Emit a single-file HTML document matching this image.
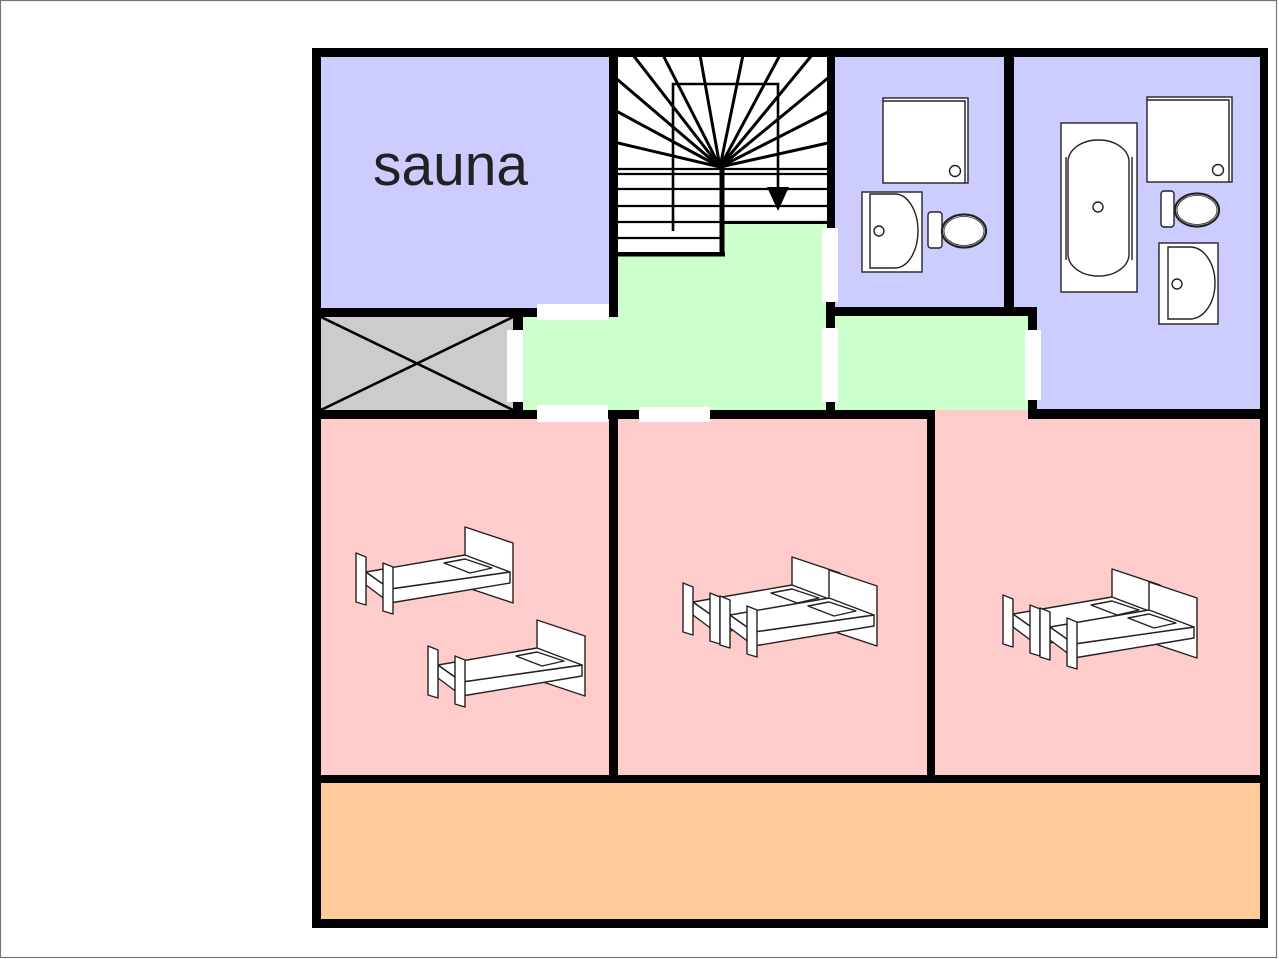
<!DOCTYPE html>
<html>
<head>
<meta charset="utf-8">
<style>
  html,body{margin:0;padding:0;background:#fff;}
  body{width:1279px;height:959px;overflow:hidden;}
  svg{display:block;}
</style>
</head>
<body>
<svg width="1279" height="959" viewBox="0 0 1279 959" xmlns="http://www.w3.org/2000/svg">
  <defs>
    <g id="bed" fill="#fff" stroke="#222" stroke-width="1.4" stroke-linejoin="round">
      <polygon points="125,17 173,33 173,93 125,77"/>
      <polygon points="26,62 50,79 50,93 26,75"/>
      <polygon points="50,79 170,62 170,73 50,93"/>
      <polygon points="26,62 125,45 170,62 50,79"/>
      <polygon points="104,53 125,49 152,58 130,63"/>
      <polygon points="16,43 26,47 26,95 16,92"/>
      <polygon points="43,53 53,57 53,104 43,101"/>
    </g>
    <g id="dbed">
      <use href="#bed"/>
      <use href="#bed" x="37" y="13"/>
    </g>
  </defs>

  <!-- background & image border -->
  <rect x="0" y="0" width="1279" height="959" fill="#fff"/>
  <rect x="0.5" y="0.5" width="1276" height="957" fill="none" stroke="#777" stroke-width="1.2"/>

  <!-- room fills -->
  <rect x="312" y="410" width="956" height="373" fill="#ffcccc"/>
  <rect x="312" y="775" width="956" height="153" fill="#ffcc99"/>
  <rect x="312" y="48" width="301" height="265" fill="#ccccff"/>
  <rect x="312" y="313" width="206" height="102" fill="#cccccc"/>
  <polygon points="518,313 613,313 613,253 721,253 721,223 831,223 831,410 518,410" fill="#ccffcc"/>
  <rect x="831" y="311" width="202" height="99" fill="#ccffcc"/>
  <rect x="831" y="48" width="178" height="263" fill="#ccccff"/>
  <rect x="1009" y="48" width="259" height="263" fill="#ccccff"/>
  <rect x="1033" y="305" width="235" height="109" fill="#ccccff"/>
  <rect x="613" y="48" width="218" height="175" fill="#fff"/>
  <rect x="613" y="220" width="108" height="33" fill="#fff"/>

  <!-- sauna label -->
  <text x="373" y="185" font-family="Liberation Sans, Arial, sans-serif" font-size="58" fill="#222" textLength="155" lengthAdjust="spacingAndGlyphs">sauna</text>

  <!-- storage X -->
  <line x1="321" y1="317" x2="513" y2="410" stroke="#000" stroke-width="2.6"/>
  <line x1="321" y1="410" x2="513" y2="317" stroke="#000" stroke-width="2.6"/>

  <!-- bathroom 1 fixtures -->
  <g fill="#fff" stroke="#222" stroke-width="1.4">
    <rect x="883" y="98" width="85" height="85"/>
    <polyline points="883,101 965,101 965,183" fill="none"/>
    <circle cx="955" cy="171" r="5.5"/>
    <rect x="862" y="192" width="60" height="80"/>
    <path d="M870 194 H895 A23 37 0 0 1 895 268 H870 Z"/>
    <circle cx="879" cy="231" r="5"/>
    <rect x="928" y="212" width="14" height="36" rx="3"/>
    <ellipse cx="964" cy="231" rx="22" ry="16.5" stroke-width="2.2"/>
    <ellipse cx="964" cy="231" rx="20" ry="14.5" stroke-width="0.8"/>
  </g>

  <!-- bathroom 2 fixtures -->
  <g fill="#fff" stroke="#222" stroke-width="1.4">
    <rect x="1061" y="123" width="76" height="169"/>
    <line x1="1066" y1="157" x2="1066" y2="260"/>
    <line x1="1132" y1="157" x2="1132" y2="260"/>
    <rect x="1068" y="140" width="61" height="136" rx="30" ry="22"/>
    <circle cx="1098" cy="207" r="5"/>
    <rect x="1147" y="97" width="85" height="85"/>
    <polyline points="1147,100 1229,100 1229,182" fill="none"/>
    <circle cx="1218" cy="170" r="5.5"/>
    <rect x="1161" y="191" width="13" height="36" rx="3"/>
    <ellipse cx="1197" cy="210" rx="22" ry="16.5" stroke-width="2.2"/>
    <ellipse cx="1197" cy="210" rx="20" ry="14.5" stroke-width="0.8"/>
    <rect x="1159" y="243" width="59" height="81"/>
    <path d="M1168 247 H1190 A25 36 0 0 1 1190 319 H1168 Z"/>
    <circle cx="1177" cy="284" r="5"/>
  </g>

  <!-- beds -->
  <use href="#bed" x="340" y="510"/>
  <use href="#bed" x="412" y="603"/>
  <use href="#dbed" x="667" y="540"/>
  <use href="#dbed" x="987" y="552"/>

  <!-- stairs -->
  <g stroke="#000" stroke-width="3" fill="none" stroke-linecap="round">
    <line x1="720" y1="167" x2="633" y2="55"/>
    <line x1="720" y1="167" x2="663" y2="55"/>
    <line x1="720" y1="167" x2="700" y2="55"/>
    <line x1="720" y1="167" x2="743" y2="55"/>
    <line x1="720" y1="167" x2="780" y2="55"/>
    <line x1="720" y1="167" x2="812" y2="55"/>
    <line x1="720" y1="167" x2="618" y2="80"/>
    <line x1="720" y1="167" x2="618" y2="112"/>
    <line x1="720" y1="167" x2="618" y2="143"/>
    <line x1="720" y1="167" x2="828" y2="78"/>
    <line x1="720" y1="167" x2="828" y2="112"/>
    <line x1="720" y1="167" x2="828" y2="143"/>
  </g>
  <g stroke="#000" stroke-width="2.2">
    <line x1="618" y1="169" x2="828" y2="169"/>
    <line x1="618" y1="174" x2="828" y2="174"/>
    <line x1="618" y1="189" x2="828" y2="189"/>
    <line x1="618" y1="206" x2="828" y2="206"/>
    <line x1="618" y1="222" x2="828" y2="222"/>
    <line x1="618" y1="238" x2="721" y2="238"/>
  </g>
  <rect x="721" y="221" width="107" height="3" fill="#000"/>
  <rect x="618" y="252" width="107" height="4.5" fill="#000"/>
  <rect x="719.5" y="166" width="5" height="90" fill="#000"/>
  <polyline points="673,231 673,84 778,84 778,196" fill="none" stroke="#000" stroke-width="2.6"/>
  <polygon points="767,187 789,187 778,211" fill="#000"/>

  <!-- walls -->
  <g fill="#000">
    <rect x="312" y="48" width="956" height="9"/>
    <rect x="312" y="48" width="9" height="880"/>
    <rect x="1260" y="48" width="8" height="880"/>
    <rect x="312" y="919" width="956" height="9"/>
    <rect x="312" y="775" width="956" height="8"/>
    <rect x="609" y="48" width="9" height="269"/>
    <rect x="312" y="308" width="306" height="9"/>
    <rect x="513" y="317" width="10" height="96"/>
    <rect x="312" y="410" width="623" height="9"/>
    <rect x="609" y="410" width="9" height="373"/>
    <rect x="927" y="410" width="8" height="373"/>
    <rect x="1028" y="409" width="240" height="10"/>
    <rect x="827" y="48" width="8" height="180"/>
    <rect x="826" y="300" width="9" height="119"/>
    <rect x="826" y="307" width="211" height="9"/>
    <rect x="1004" y="48" width="10" height="268"/>
    <rect x="1028" y="307" width="9" height="111"/>
  </g>

  <!-- door openings (white) -->
  <g fill="#fff">
    <rect x="537" y="304" width="72" height="16"/>
    <rect x="507" y="330" width="16" height="72"/>
    <rect x="537" y="405" width="71" height="17"/>
    <rect x="639" y="407" width="71" height="15"/>
    <rect x="822" y="228" width="16" height="74"/>
    <rect x="822" y="328" width="16" height="74"/>
    <rect x="1025" y="330" width="16" height="70"/>
  </g>
</svg>
</body>
</html>
